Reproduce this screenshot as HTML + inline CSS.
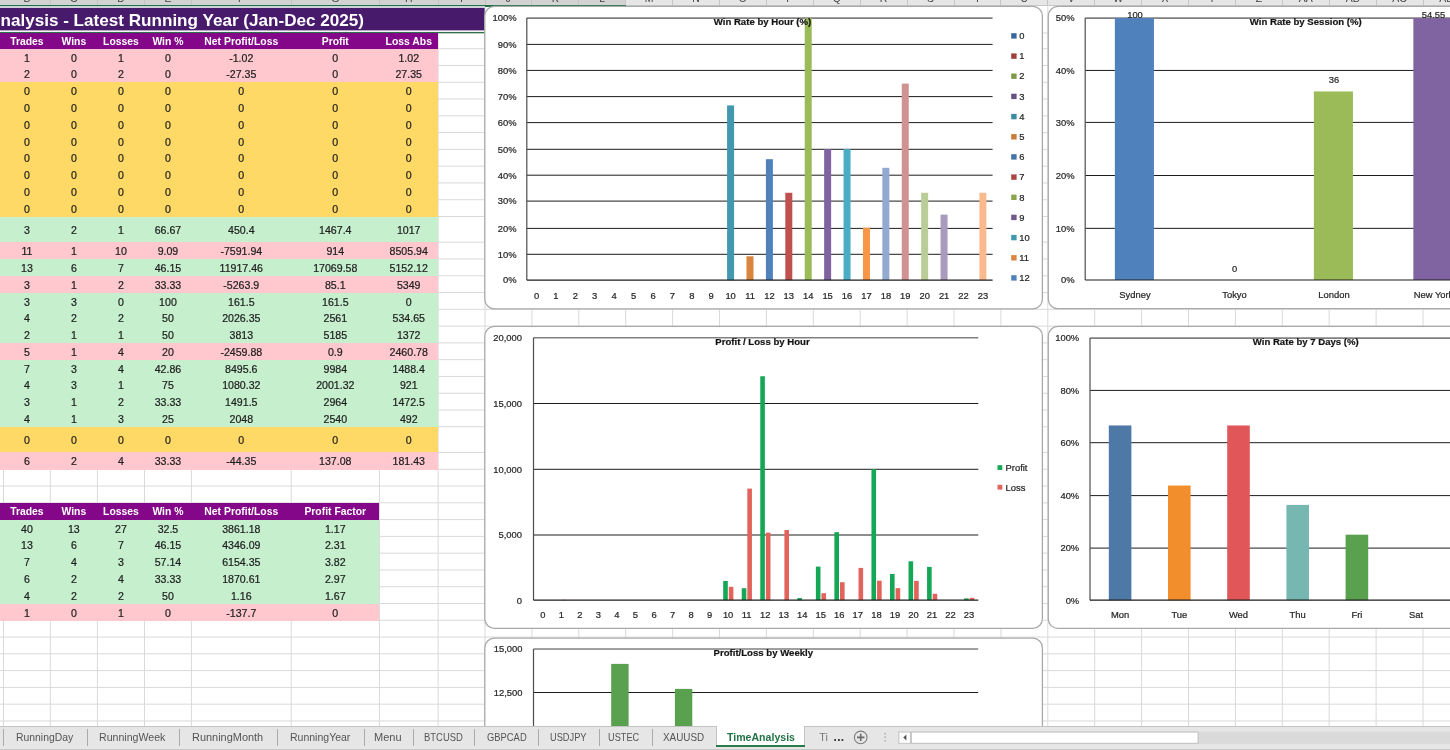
<!DOCTYPE html><html><head><meta charset="utf-8"><title>TimeAnalysis</title><style>
html,body{margin:0;padding:0;background:#fff;}
body{width:1450px;height:750px;overflow:hidden;position:relative;font-family:"Liberation Sans",sans-serif;}
#sheet{will-change:transform;position:absolute;left:0;top:0;width:1450px;height:750px;overflow:hidden;}
.c{position:absolute;text-align:center;white-space:nowrap;font-size:10.6px;color:#1e1e1e;overflow:visible;-webkit-text-stroke:0.22px #1e1e1e;}
.h{position:absolute;text-align:center;white-space:nowrap;font-size:10.4px;font-weight:bold;color:#fff;}
.bg{position:absolute;}
svg{position:absolute;left:0;top:0;}
svg text{font-family:"Liberation Sans",sans-serif;stroke:#262626;stroke-width:0.22px;}
.tab{position:absolute;top:730.4px;height:14px;line-height:14px;font-size:10.8px;color:#555;white-space:nowrap;}
.sep{position:absolute;top:729px;width:1px;height:17px;background:#ababab;}

</style></head><body><div id="sheet">
<svg width="1450" height="750" viewBox="0 0 1450 750">
<g stroke="#d9d9d9" stroke-width="1" shape-rendering="auto">
<line x1="3.5" y1="6" x2="3.5" y2="726"/>
<line x1="50.3" y1="6" x2="50.3" y2="726"/>
<line x1="97.4" y1="6" x2="97.4" y2="726"/>
<line x1="144.5" y1="6" x2="144.5" y2="726"/>
<line x1="191.4" y1="6" x2="191.4" y2="726"/>
<line x1="291.2" y1="6" x2="291.2" y2="726"/>
<line x1="379.4" y1="6" x2="379.4" y2="726"/>
<line x1="438.1" y1="6" x2="438.1" y2="726"/>
<line x1="485.0" y1="6" x2="485.0" y2="726"/>
<line x1="531.9" y1="6" x2="531.9" y2="726"/>
<line x1="578.8" y1="6" x2="578.8" y2="726"/>
<line x1="625.7" y1="6" x2="625.7" y2="726"/>
<line x1="672.6" y1="6" x2="672.6" y2="726"/>
<line x1="719.5" y1="6" x2="719.5" y2="726"/>
<line x1="766.4" y1="6" x2="766.4" y2="726"/>
<line x1="813.3" y1="6" x2="813.3" y2="726"/>
<line x1="860.2" y1="6" x2="860.2" y2="726"/>
<line x1="907.1" y1="6" x2="907.1" y2="726"/>
<line x1="954.0" y1="6" x2="954.0" y2="726"/>
<line x1="1000.9" y1="6" x2="1000.9" y2="726"/>
<line x1="1047.8" y1="6" x2="1047.8" y2="726"/>
<line x1="1094.7" y1="6" x2="1094.7" y2="726"/>
<line x1="1141.6" y1="6" x2="1141.6" y2="726"/>
<line x1="1188.5" y1="6" x2="1188.5" y2="726"/>
<line x1="1235.4" y1="6" x2="1235.4" y2="726"/>
<line x1="1282.3" y1="6" x2="1282.3" y2="726"/>
<line x1="1329.2" y1="6" x2="1329.2" y2="726"/>
<line x1="1376.1" y1="6" x2="1376.1" y2="726"/>
<line x1="1423.0" y1="6" x2="1423.0" y2="726"/>
<line x1="0" y1="33.00" x2="1450" y2="33.00"/>
<line x1="0" y1="48.70" x2="1450" y2="48.70"/>
<line x1="0" y1="65.48" x2="1450" y2="65.48"/>
<line x1="0" y1="82.26" x2="1450" y2="82.26"/>
<line x1="0" y1="99.04" x2="1450" y2="99.04"/>
<line x1="0" y1="115.82" x2="1450" y2="115.82"/>
<line x1="0" y1="132.60" x2="1450" y2="132.60"/>
<line x1="0" y1="149.38" x2="1450" y2="149.38"/>
<line x1="0" y1="166.16" x2="1450" y2="166.16"/>
<line x1="0" y1="182.94" x2="1450" y2="182.94"/>
<line x1="0" y1="199.72" x2="1450" y2="199.72"/>
<line x1="0" y1="216.50" x2="1450" y2="216.50"/>
<line x1="0" y1="242.20" x2="1450" y2="242.20"/>
<line x1="0" y1="258.98" x2="1450" y2="258.98"/>
<line x1="0" y1="275.76" x2="1450" y2="275.76"/>
<line x1="0" y1="292.54" x2="1450" y2="292.54"/>
<line x1="0" y1="309.32" x2="1450" y2="309.32"/>
<line x1="0" y1="326.10" x2="1450" y2="326.10"/>
<line x1="0" y1="342.88" x2="1450" y2="342.88"/>
<line x1="0" y1="359.66" x2="1450" y2="359.66"/>
<line x1="0" y1="376.44" x2="1450" y2="376.44"/>
<line x1="0" y1="393.22" x2="1450" y2="393.22"/>
<line x1="0" y1="410.00" x2="1450" y2="410.00"/>
<line x1="0" y1="426.78" x2="1450" y2="426.78"/>
<line x1="0" y1="452.48" x2="1450" y2="452.48"/>
<line x1="0" y1="469.26" x2="1450" y2="469.26"/>
<line x1="0" y1="486.04" x2="1450" y2="486.04"/>
<line x1="0" y1="502.82" x2="1450" y2="502.82"/>
<line x1="0" y1="519.60" x2="1450" y2="519.60"/>
<line x1="0" y1="536.38" x2="1450" y2="536.38"/>
<line x1="0" y1="553.16" x2="1450" y2="553.16"/>
<line x1="0" y1="569.94" x2="1450" y2="569.94"/>
<line x1="0" y1="586.72" x2="1450" y2="586.72"/>
<line x1="0" y1="603.50" x2="1450" y2="603.50"/>
<line x1="0" y1="620.28" x2="1450" y2="620.28"/>
<line x1="0" y1="637.06" x2="1450" y2="637.06"/>
<line x1="0" y1="653.84" x2="1450" y2="653.84"/>
<line x1="0" y1="670.62" x2="1450" y2="670.62"/>
<line x1="0" y1="687.40" x2="1450" y2="687.40"/>
<line x1="0" y1="704.18" x2="1450" y2="704.18"/>
<line x1="0" y1="720.96" x2="1450" y2="720.96"/>
</g></svg>
<div class="bg" style="left:0;top:0;width:1450px;height:6.4px;background:#e6e6e6;border-bottom:1px solid #c8c8c8;box-sizing:border-box"></div>
<div class="bg" style="left:0;top:0;width:626px;height:5px;background:#d3d3d3"></div>
<div class="bg" style="left:0;top:4.9px;width:626px;height:1.7px;background:#1f7145"></div>
<div style="position:absolute;left:0;top:0;width:1450px;height:5px;overflow:hidden">
<div style="position:absolute;left:3.5px;width:46.8px;top:-8.5px;text-align:center;font-size:10.5px;color:#444;line-height:12px">B</div>
<div style="position:absolute;left:49.8px;top:0;width:1px;height:5px;background:#c4c4c4"></div>
<div style="position:absolute;left:50.3px;width:47.1px;top:-8.5px;text-align:center;font-size:10.5px;color:#444;line-height:12px">C</div>
<div style="position:absolute;left:96.9px;top:0;width:1px;height:5px;background:#c4c4c4"></div>
<div style="position:absolute;left:97.4px;width:47.1px;top:-8.5px;text-align:center;font-size:10.5px;color:#444;line-height:12px">D</div>
<div style="position:absolute;left:144.0px;top:0;width:1px;height:5px;background:#c4c4c4"></div>
<div style="position:absolute;left:144.5px;width:46.9px;top:-8.5px;text-align:center;font-size:10.5px;color:#444;line-height:12px">E</div>
<div style="position:absolute;left:190.9px;top:0;width:1px;height:5px;background:#c4c4c4"></div>
<div style="position:absolute;left:191.4px;width:99.8px;top:-8.5px;text-align:center;font-size:10.5px;color:#444;line-height:12px">F</div>
<div style="position:absolute;left:290.7px;top:0;width:1px;height:5px;background:#c4c4c4"></div>
<div style="position:absolute;left:291.2px;width:88.2px;top:-8.5px;text-align:center;font-size:10.5px;color:#444;line-height:12px">G</div>
<div style="position:absolute;left:378.9px;top:0;width:1px;height:5px;background:#c4c4c4"></div>
<div style="position:absolute;left:379.4px;width:58.7px;top:-8.5px;text-align:center;font-size:10.5px;color:#444;line-height:12px">H</div>
<div style="position:absolute;left:437.6px;top:0;width:1px;height:5px;background:#c4c4c4"></div>
<div style="position:absolute;left:438.1px;width:46.9px;top:-8.5px;text-align:center;font-size:10.5px;color:#444;line-height:12px">I</div>
<div style="position:absolute;left:484.5px;top:0;width:1px;height:5px;background:#c4c4c4"></div>
<div style="position:absolute;left:485.0px;width:46.9px;top:-8.5px;text-align:center;font-size:10.5px;color:#444;line-height:12px">J</div>
<div style="position:absolute;left:531.4px;top:0;width:1px;height:5px;background:#c4c4c4"></div>
<div style="position:absolute;left:531.9px;width:46.9px;top:-8.5px;text-align:center;font-size:10.5px;color:#444;line-height:12px">K</div>
<div style="position:absolute;left:578.3px;top:0;width:1px;height:5px;background:#c4c4c4"></div>
<div style="position:absolute;left:578.8px;width:46.9px;top:-8.5px;text-align:center;font-size:10.5px;color:#444;line-height:12px">L</div>
<div style="position:absolute;left:625.2px;top:0;width:1px;height:5px;background:#c4c4c4"></div>
<div style="position:absolute;left:625.7px;width:46.9px;top:-8.5px;text-align:center;font-size:10.5px;color:#444;line-height:12px">M</div>
<div style="position:absolute;left:672.1px;top:0;width:1px;height:5px;background:#c4c4c4"></div>
<div style="position:absolute;left:672.6px;width:46.9px;top:-8.5px;text-align:center;font-size:10.5px;color:#444;line-height:12px">N</div>
<div style="position:absolute;left:719.0px;top:0;width:1px;height:5px;background:#c4c4c4"></div>
<div style="position:absolute;left:719.5px;width:46.9px;top:-8.5px;text-align:center;font-size:10.5px;color:#444;line-height:12px">O</div>
<div style="position:absolute;left:765.9px;top:0;width:1px;height:5px;background:#c4c4c4"></div>
<div style="position:absolute;left:766.4px;width:46.9px;top:-8.5px;text-align:center;font-size:10.5px;color:#444;line-height:12px">P</div>
<div style="position:absolute;left:812.8px;top:0;width:1px;height:5px;background:#c4c4c4"></div>
<div style="position:absolute;left:813.3px;width:46.9px;top:-8.5px;text-align:center;font-size:10.5px;color:#444;line-height:12px">Q</div>
<div style="position:absolute;left:859.7px;top:0;width:1px;height:5px;background:#c4c4c4"></div>
<div style="position:absolute;left:860.2px;width:46.9px;top:-8.5px;text-align:center;font-size:10.5px;color:#444;line-height:12px">R</div>
<div style="position:absolute;left:906.6px;top:0;width:1px;height:5px;background:#c4c4c4"></div>
<div style="position:absolute;left:907.1px;width:46.9px;top:-8.5px;text-align:center;font-size:10.5px;color:#444;line-height:12px">S</div>
<div style="position:absolute;left:953.5px;top:0;width:1px;height:5px;background:#c4c4c4"></div>
<div style="position:absolute;left:954.0px;width:46.9px;top:-8.5px;text-align:center;font-size:10.5px;color:#444;line-height:12px">T</div>
<div style="position:absolute;left:1000.4px;top:0;width:1px;height:5px;background:#c4c4c4"></div>
<div style="position:absolute;left:1000.9px;width:46.9px;top:-8.5px;text-align:center;font-size:10.5px;color:#444;line-height:12px">U</div>
<div style="position:absolute;left:1047.3px;top:0;width:1px;height:5px;background:#c4c4c4"></div>
<div style="position:absolute;left:1047.8px;width:46.9px;top:-8.5px;text-align:center;font-size:10.5px;color:#444;line-height:12px">V</div>
<div style="position:absolute;left:1094.2px;top:0;width:1px;height:5px;background:#c4c4c4"></div>
<div style="position:absolute;left:1094.7px;width:46.9px;top:-8.5px;text-align:center;font-size:10.5px;color:#444;line-height:12px">W</div>
<div style="position:absolute;left:1141.1px;top:0;width:1px;height:5px;background:#c4c4c4"></div>
<div style="position:absolute;left:1141.6px;width:46.9px;top:-8.5px;text-align:center;font-size:10.5px;color:#444;line-height:12px">X</div>
<div style="position:absolute;left:1188.0px;top:0;width:1px;height:5px;background:#c4c4c4"></div>
<div style="position:absolute;left:1188.5px;width:46.9px;top:-8.5px;text-align:center;font-size:10.5px;color:#444;line-height:12px">Y</div>
<div style="position:absolute;left:1234.9px;top:0;width:1px;height:5px;background:#c4c4c4"></div>
<div style="position:absolute;left:1235.4px;width:46.9px;top:-8.5px;text-align:center;font-size:10.5px;color:#444;line-height:12px">Z</div>
<div style="position:absolute;left:1281.8px;top:0;width:1px;height:5px;background:#c4c4c4"></div>
<div style="position:absolute;left:1282.3px;width:46.9px;top:-8.5px;text-align:center;font-size:10.5px;color:#444;line-height:12px">AA</div>
<div style="position:absolute;left:1328.7px;top:0;width:1px;height:5px;background:#c4c4c4"></div>
<div style="position:absolute;left:1329.2px;width:46.9px;top:-8.5px;text-align:center;font-size:10.5px;color:#444;line-height:12px">AB</div>
<div style="position:absolute;left:1375.6px;top:0;width:1px;height:5px;background:#c4c4c4"></div>
<div style="position:absolute;left:1376.1px;width:46.9px;top:-8.5px;text-align:center;font-size:10.5px;color:#444;line-height:12px">AC</div>
<div style="position:absolute;left:1422.5px;top:0;width:1px;height:5px;background:#c4c4c4"></div>
<div style="position:absolute;left:1423.0px;width:46.9px;top:-8.5px;text-align:center;font-size:10.5px;color:#444;line-height:12px">AD</div>
<div style="position:absolute;left:1469.4px;top:0;width:1px;height:5px;background:#c4c4c4"></div>
</div>
<div class="bg" style="left:0;top:6.4px;width:485px;height:1.8px;background:#d0d0d8"></div>
<svg width="1450" height="40" viewBox="0 0 1450 40"><rect x="0" y="8" width="484.6" height="22.6" fill="#481a6b"/><rect x="0" y="30.6" width="484.6" height="1.4" fill="#f4f4f4"/><rect x="0" y="32" width="484.6" height="1.25" fill="#2f6f4c"/></svg>
<div style="position:absolute;left:-200px;width:564px;top:9px;height:23px;line-height:23px;text-align:right;white-space:nowrap;font-weight:bold;font-size:17.1px;color:#fff">Time Analysis - Latest Running Year (Jan-Dec 2025)</div>
<div class="bg" style="left:0;top:33px;width:438.1px;height:16px;background:#84078a"></div>
<div class="h" style="left:3.5px;width:46.8px;top:33px;height:16px;line-height:17px">Trades</div>
<div class="h" style="left:50.3px;width:47.1px;top:33px;height:16px;line-height:17px">Wins</div>
<div class="h" style="left:97.4px;width:47.1px;top:33px;height:16px;line-height:17px">Losses</div>
<div class="h" style="left:144.5px;width:46.9px;top:33px;height:16px;line-height:17px">Win %</div>
<div class="h" style="left:191.4px;width:99.8px;top:33px;height:16px;line-height:17px">Net Profit/Loss</div>
<div class="h" style="left:291.2px;width:88.2px;top:33px;height:16px;line-height:17px">Profit</div>
<div class="h" style="left:379.4px;width:58.7px;top:33px;height:16px;line-height:17px">Loss Abs</div>
<div class="bg" style="left:0;top:48.70px;width:438.1px;height:17.18px;background:#ffc7ce"></div>
<div class="c" style="left:3.5px;width:46.8px;top:48.70px;height:16.78px;line-height:18.18px">1</div>
<div class="c" style="left:50.3px;width:47.1px;top:48.70px;height:16.78px;line-height:18.18px">0</div>
<div class="c" style="left:97.4px;width:47.1px;top:48.70px;height:16.78px;line-height:18.18px">1</div>
<div class="c" style="left:144.5px;width:46.9px;top:48.70px;height:16.78px;line-height:18.18px">0</div>
<div class="c" style="left:191.4px;width:99.8px;top:48.70px;height:16.78px;line-height:18.18px">-1.02</div>
<div class="c" style="left:291.2px;width:88.2px;top:48.70px;height:16.78px;line-height:18.18px">0</div>
<div class="c" style="left:379.4px;width:58.7px;top:48.70px;height:16.78px;line-height:18.18px">1.02</div>
<div class="bg" style="left:0;top:65.48px;width:438.1px;height:17.18px;background:#ffc7ce"></div>
<div class="c" style="left:3.5px;width:46.8px;top:65.48px;height:16.78px;line-height:18.18px">2</div>
<div class="c" style="left:50.3px;width:47.1px;top:65.48px;height:16.78px;line-height:18.18px">0</div>
<div class="c" style="left:97.4px;width:47.1px;top:65.48px;height:16.78px;line-height:18.18px">2</div>
<div class="c" style="left:144.5px;width:46.9px;top:65.48px;height:16.78px;line-height:18.18px">0</div>
<div class="c" style="left:191.4px;width:99.8px;top:65.48px;height:16.78px;line-height:18.18px">-27.35</div>
<div class="c" style="left:291.2px;width:88.2px;top:65.48px;height:16.78px;line-height:18.18px">0</div>
<div class="c" style="left:379.4px;width:58.7px;top:65.48px;height:16.78px;line-height:18.18px">27.35</div>
<div class="bg" style="left:0;top:82.26px;width:438.1px;height:17.18px;background:#ffd966"></div>
<div class="c" style="left:3.5px;width:46.8px;top:82.26px;height:16.78px;line-height:18.18px">0</div>
<div class="c" style="left:50.3px;width:47.1px;top:82.26px;height:16.78px;line-height:18.18px">0</div>
<div class="c" style="left:97.4px;width:47.1px;top:82.26px;height:16.78px;line-height:18.18px">0</div>
<div class="c" style="left:144.5px;width:46.9px;top:82.26px;height:16.78px;line-height:18.18px">0</div>
<div class="c" style="left:191.4px;width:99.8px;top:82.26px;height:16.78px;line-height:18.18px">0</div>
<div class="c" style="left:291.2px;width:88.2px;top:82.26px;height:16.78px;line-height:18.18px">0</div>
<div class="c" style="left:379.4px;width:58.7px;top:82.26px;height:16.78px;line-height:18.18px">0</div>
<div class="bg" style="left:0;top:99.04px;width:438.1px;height:17.18px;background:#ffd966"></div>
<div class="c" style="left:3.5px;width:46.8px;top:99.04px;height:16.78px;line-height:18.18px">0</div>
<div class="c" style="left:50.3px;width:47.1px;top:99.04px;height:16.78px;line-height:18.18px">0</div>
<div class="c" style="left:97.4px;width:47.1px;top:99.04px;height:16.78px;line-height:18.18px">0</div>
<div class="c" style="left:144.5px;width:46.9px;top:99.04px;height:16.78px;line-height:18.18px">0</div>
<div class="c" style="left:191.4px;width:99.8px;top:99.04px;height:16.78px;line-height:18.18px">0</div>
<div class="c" style="left:291.2px;width:88.2px;top:99.04px;height:16.78px;line-height:18.18px">0</div>
<div class="c" style="left:379.4px;width:58.7px;top:99.04px;height:16.78px;line-height:18.18px">0</div>
<div class="bg" style="left:0;top:115.82px;width:438.1px;height:17.18px;background:#ffd966"></div>
<div class="c" style="left:3.5px;width:46.8px;top:115.82px;height:16.78px;line-height:18.18px">0</div>
<div class="c" style="left:50.3px;width:47.1px;top:115.82px;height:16.78px;line-height:18.18px">0</div>
<div class="c" style="left:97.4px;width:47.1px;top:115.82px;height:16.78px;line-height:18.18px">0</div>
<div class="c" style="left:144.5px;width:46.9px;top:115.82px;height:16.78px;line-height:18.18px">0</div>
<div class="c" style="left:191.4px;width:99.8px;top:115.82px;height:16.78px;line-height:18.18px">0</div>
<div class="c" style="left:291.2px;width:88.2px;top:115.82px;height:16.78px;line-height:18.18px">0</div>
<div class="c" style="left:379.4px;width:58.7px;top:115.82px;height:16.78px;line-height:18.18px">0</div>
<div class="bg" style="left:0;top:132.60px;width:438.1px;height:17.18px;background:#ffd966"></div>
<div class="c" style="left:3.5px;width:46.8px;top:132.60px;height:16.78px;line-height:18.18px">0</div>
<div class="c" style="left:50.3px;width:47.1px;top:132.60px;height:16.78px;line-height:18.18px">0</div>
<div class="c" style="left:97.4px;width:47.1px;top:132.60px;height:16.78px;line-height:18.18px">0</div>
<div class="c" style="left:144.5px;width:46.9px;top:132.60px;height:16.78px;line-height:18.18px">0</div>
<div class="c" style="left:191.4px;width:99.8px;top:132.60px;height:16.78px;line-height:18.18px">0</div>
<div class="c" style="left:291.2px;width:88.2px;top:132.60px;height:16.78px;line-height:18.18px">0</div>
<div class="c" style="left:379.4px;width:58.7px;top:132.60px;height:16.78px;line-height:18.18px">0</div>
<div class="bg" style="left:0;top:149.38px;width:438.1px;height:17.18px;background:#ffd966"></div>
<div class="c" style="left:3.5px;width:46.8px;top:149.38px;height:16.78px;line-height:18.18px">0</div>
<div class="c" style="left:50.3px;width:47.1px;top:149.38px;height:16.78px;line-height:18.18px">0</div>
<div class="c" style="left:97.4px;width:47.1px;top:149.38px;height:16.78px;line-height:18.18px">0</div>
<div class="c" style="left:144.5px;width:46.9px;top:149.38px;height:16.78px;line-height:18.18px">0</div>
<div class="c" style="left:191.4px;width:99.8px;top:149.38px;height:16.78px;line-height:18.18px">0</div>
<div class="c" style="left:291.2px;width:88.2px;top:149.38px;height:16.78px;line-height:18.18px">0</div>
<div class="c" style="left:379.4px;width:58.7px;top:149.38px;height:16.78px;line-height:18.18px">0</div>
<div class="bg" style="left:0;top:166.16px;width:438.1px;height:17.18px;background:#ffd966"></div>
<div class="c" style="left:3.5px;width:46.8px;top:166.16px;height:16.78px;line-height:18.18px">0</div>
<div class="c" style="left:50.3px;width:47.1px;top:166.16px;height:16.78px;line-height:18.18px">0</div>
<div class="c" style="left:97.4px;width:47.1px;top:166.16px;height:16.78px;line-height:18.18px">0</div>
<div class="c" style="left:144.5px;width:46.9px;top:166.16px;height:16.78px;line-height:18.18px">0</div>
<div class="c" style="left:191.4px;width:99.8px;top:166.16px;height:16.78px;line-height:18.18px">0</div>
<div class="c" style="left:291.2px;width:88.2px;top:166.16px;height:16.78px;line-height:18.18px">0</div>
<div class="c" style="left:379.4px;width:58.7px;top:166.16px;height:16.78px;line-height:18.18px">0</div>
<div class="bg" style="left:0;top:182.94px;width:438.1px;height:17.18px;background:#ffd966"></div>
<div class="c" style="left:3.5px;width:46.8px;top:182.94px;height:16.78px;line-height:18.18px">0</div>
<div class="c" style="left:50.3px;width:47.1px;top:182.94px;height:16.78px;line-height:18.18px">0</div>
<div class="c" style="left:97.4px;width:47.1px;top:182.94px;height:16.78px;line-height:18.18px">0</div>
<div class="c" style="left:144.5px;width:46.9px;top:182.94px;height:16.78px;line-height:18.18px">0</div>
<div class="c" style="left:191.4px;width:99.8px;top:182.94px;height:16.78px;line-height:18.18px">0</div>
<div class="c" style="left:291.2px;width:88.2px;top:182.94px;height:16.78px;line-height:18.18px">0</div>
<div class="c" style="left:379.4px;width:58.7px;top:182.94px;height:16.78px;line-height:18.18px">0</div>
<div class="bg" style="left:0;top:199.72px;width:438.1px;height:17.18px;background:#ffd966"></div>
<div class="c" style="left:3.5px;width:46.8px;top:199.72px;height:16.78px;line-height:18.18px">0</div>
<div class="c" style="left:50.3px;width:47.1px;top:199.72px;height:16.78px;line-height:18.18px">0</div>
<div class="c" style="left:97.4px;width:47.1px;top:199.72px;height:16.78px;line-height:18.18px">0</div>
<div class="c" style="left:144.5px;width:46.9px;top:199.72px;height:16.78px;line-height:18.18px">0</div>
<div class="c" style="left:191.4px;width:99.8px;top:199.72px;height:16.78px;line-height:18.18px">0</div>
<div class="c" style="left:291.2px;width:88.2px;top:199.72px;height:16.78px;line-height:18.18px">0</div>
<div class="c" style="left:379.4px;width:58.7px;top:199.72px;height:16.78px;line-height:18.18px">0</div>
<div class="bg" style="left:0;top:216.50px;width:438.1px;height:26.10px;background:#c6efce"></div>
<div class="c" style="left:3.5px;width:46.8px;top:216.50px;height:25.70px;line-height:27.10px">3</div>
<div class="c" style="left:50.3px;width:47.1px;top:216.50px;height:25.70px;line-height:27.10px">2</div>
<div class="c" style="left:97.4px;width:47.1px;top:216.50px;height:25.70px;line-height:27.10px">1</div>
<div class="c" style="left:144.5px;width:46.9px;top:216.50px;height:25.70px;line-height:27.10px">66.67</div>
<div class="c" style="left:191.4px;width:99.8px;top:216.50px;height:25.70px;line-height:27.10px">450.4</div>
<div class="c" style="left:291.2px;width:88.2px;top:216.50px;height:25.70px;line-height:27.10px">1467.4</div>
<div class="c" style="left:379.4px;width:58.7px;top:216.50px;height:25.70px;line-height:27.10px">1017</div>
<div class="bg" style="left:0;top:242.20px;width:438.1px;height:17.18px;background:#ffc7ce"></div>
<div class="c" style="left:3.5px;width:46.8px;top:242.20px;height:16.78px;line-height:18.18px">11</div>
<div class="c" style="left:50.3px;width:47.1px;top:242.20px;height:16.78px;line-height:18.18px">1</div>
<div class="c" style="left:97.4px;width:47.1px;top:242.20px;height:16.78px;line-height:18.18px">10</div>
<div class="c" style="left:144.5px;width:46.9px;top:242.20px;height:16.78px;line-height:18.18px">9.09</div>
<div class="c" style="left:191.4px;width:99.8px;top:242.20px;height:16.78px;line-height:18.18px">-7591.94</div>
<div class="c" style="left:291.2px;width:88.2px;top:242.20px;height:16.78px;line-height:18.18px">914</div>
<div class="c" style="left:379.4px;width:58.7px;top:242.20px;height:16.78px;line-height:18.18px">8505.94</div>
<div class="bg" style="left:0;top:258.98px;width:438.1px;height:17.18px;background:#c6efce"></div>
<div class="c" style="left:3.5px;width:46.8px;top:258.98px;height:16.78px;line-height:18.18px">13</div>
<div class="c" style="left:50.3px;width:47.1px;top:258.98px;height:16.78px;line-height:18.18px">6</div>
<div class="c" style="left:97.4px;width:47.1px;top:258.98px;height:16.78px;line-height:18.18px">7</div>
<div class="c" style="left:144.5px;width:46.9px;top:258.98px;height:16.78px;line-height:18.18px">46.15</div>
<div class="c" style="left:191.4px;width:99.8px;top:258.98px;height:16.78px;line-height:18.18px">11917.46</div>
<div class="c" style="left:291.2px;width:88.2px;top:258.98px;height:16.78px;line-height:18.18px">17069.58</div>
<div class="c" style="left:379.4px;width:58.7px;top:258.98px;height:16.78px;line-height:18.18px">5152.12</div>
<div class="bg" style="left:0;top:275.76px;width:438.1px;height:17.18px;background:#ffc7ce"></div>
<div class="c" style="left:3.5px;width:46.8px;top:275.76px;height:16.78px;line-height:18.18px">3</div>
<div class="c" style="left:50.3px;width:47.1px;top:275.76px;height:16.78px;line-height:18.18px">1</div>
<div class="c" style="left:97.4px;width:47.1px;top:275.76px;height:16.78px;line-height:18.18px">2</div>
<div class="c" style="left:144.5px;width:46.9px;top:275.76px;height:16.78px;line-height:18.18px">33.33</div>
<div class="c" style="left:191.4px;width:99.8px;top:275.76px;height:16.78px;line-height:18.18px">-5263.9</div>
<div class="c" style="left:291.2px;width:88.2px;top:275.76px;height:16.78px;line-height:18.18px">85.1</div>
<div class="c" style="left:379.4px;width:58.7px;top:275.76px;height:16.78px;line-height:18.18px">5349</div>
<div class="bg" style="left:0;top:292.54px;width:438.1px;height:17.18px;background:#c6efce"></div>
<div class="c" style="left:3.5px;width:46.8px;top:292.54px;height:16.78px;line-height:18.18px">3</div>
<div class="c" style="left:50.3px;width:47.1px;top:292.54px;height:16.78px;line-height:18.18px">3</div>
<div class="c" style="left:97.4px;width:47.1px;top:292.54px;height:16.78px;line-height:18.18px">0</div>
<div class="c" style="left:144.5px;width:46.9px;top:292.54px;height:16.78px;line-height:18.18px">100</div>
<div class="c" style="left:191.4px;width:99.8px;top:292.54px;height:16.78px;line-height:18.18px">161.5</div>
<div class="c" style="left:291.2px;width:88.2px;top:292.54px;height:16.78px;line-height:18.18px">161.5</div>
<div class="c" style="left:379.4px;width:58.7px;top:292.54px;height:16.78px;line-height:18.18px">0</div>
<div class="bg" style="left:0;top:309.32px;width:438.1px;height:17.18px;background:#c6efce"></div>
<div class="c" style="left:3.5px;width:46.8px;top:309.32px;height:16.78px;line-height:18.18px">4</div>
<div class="c" style="left:50.3px;width:47.1px;top:309.32px;height:16.78px;line-height:18.18px">2</div>
<div class="c" style="left:97.4px;width:47.1px;top:309.32px;height:16.78px;line-height:18.18px">2</div>
<div class="c" style="left:144.5px;width:46.9px;top:309.32px;height:16.78px;line-height:18.18px">50</div>
<div class="c" style="left:191.4px;width:99.8px;top:309.32px;height:16.78px;line-height:18.18px">2026.35</div>
<div class="c" style="left:291.2px;width:88.2px;top:309.32px;height:16.78px;line-height:18.18px">2561</div>
<div class="c" style="left:379.4px;width:58.7px;top:309.32px;height:16.78px;line-height:18.18px">534.65</div>
<div class="bg" style="left:0;top:326.10px;width:438.1px;height:17.18px;background:#c6efce"></div>
<div class="c" style="left:3.5px;width:46.8px;top:326.10px;height:16.78px;line-height:18.18px">2</div>
<div class="c" style="left:50.3px;width:47.1px;top:326.10px;height:16.78px;line-height:18.18px">1</div>
<div class="c" style="left:97.4px;width:47.1px;top:326.10px;height:16.78px;line-height:18.18px">1</div>
<div class="c" style="left:144.5px;width:46.9px;top:326.10px;height:16.78px;line-height:18.18px">50</div>
<div class="c" style="left:191.4px;width:99.8px;top:326.10px;height:16.78px;line-height:18.18px">3813</div>
<div class="c" style="left:291.2px;width:88.2px;top:326.10px;height:16.78px;line-height:18.18px">5185</div>
<div class="c" style="left:379.4px;width:58.7px;top:326.10px;height:16.78px;line-height:18.18px">1372</div>
<div class="bg" style="left:0;top:342.88px;width:438.1px;height:17.18px;background:#ffc7ce"></div>
<div class="c" style="left:3.5px;width:46.8px;top:342.88px;height:16.78px;line-height:18.18px">5</div>
<div class="c" style="left:50.3px;width:47.1px;top:342.88px;height:16.78px;line-height:18.18px">1</div>
<div class="c" style="left:97.4px;width:47.1px;top:342.88px;height:16.78px;line-height:18.18px">4</div>
<div class="c" style="left:144.5px;width:46.9px;top:342.88px;height:16.78px;line-height:18.18px">20</div>
<div class="c" style="left:191.4px;width:99.8px;top:342.88px;height:16.78px;line-height:18.18px">-2459.88</div>
<div class="c" style="left:291.2px;width:88.2px;top:342.88px;height:16.78px;line-height:18.18px">0.9</div>
<div class="c" style="left:379.4px;width:58.7px;top:342.88px;height:16.78px;line-height:18.18px">2460.78</div>
<div class="bg" style="left:0;top:359.66px;width:438.1px;height:17.18px;background:#c6efce"></div>
<div class="c" style="left:3.5px;width:46.8px;top:359.66px;height:16.78px;line-height:18.18px">7</div>
<div class="c" style="left:50.3px;width:47.1px;top:359.66px;height:16.78px;line-height:18.18px">3</div>
<div class="c" style="left:97.4px;width:47.1px;top:359.66px;height:16.78px;line-height:18.18px">4</div>
<div class="c" style="left:144.5px;width:46.9px;top:359.66px;height:16.78px;line-height:18.18px">42.86</div>
<div class="c" style="left:191.4px;width:99.8px;top:359.66px;height:16.78px;line-height:18.18px">8495.6</div>
<div class="c" style="left:291.2px;width:88.2px;top:359.66px;height:16.78px;line-height:18.18px">9984</div>
<div class="c" style="left:379.4px;width:58.7px;top:359.66px;height:16.78px;line-height:18.18px">1488.4</div>
<div class="bg" style="left:0;top:376.44px;width:438.1px;height:17.18px;background:#c6efce"></div>
<div class="c" style="left:3.5px;width:46.8px;top:376.44px;height:16.78px;line-height:18.18px">4</div>
<div class="c" style="left:50.3px;width:47.1px;top:376.44px;height:16.78px;line-height:18.18px">3</div>
<div class="c" style="left:97.4px;width:47.1px;top:376.44px;height:16.78px;line-height:18.18px">1</div>
<div class="c" style="left:144.5px;width:46.9px;top:376.44px;height:16.78px;line-height:18.18px">75</div>
<div class="c" style="left:191.4px;width:99.8px;top:376.44px;height:16.78px;line-height:18.18px">1080.32</div>
<div class="c" style="left:291.2px;width:88.2px;top:376.44px;height:16.78px;line-height:18.18px">2001.32</div>
<div class="c" style="left:379.4px;width:58.7px;top:376.44px;height:16.78px;line-height:18.18px">921</div>
<div class="bg" style="left:0;top:393.22px;width:438.1px;height:17.18px;background:#c6efce"></div>
<div class="c" style="left:3.5px;width:46.8px;top:393.22px;height:16.78px;line-height:18.18px">3</div>
<div class="c" style="left:50.3px;width:47.1px;top:393.22px;height:16.78px;line-height:18.18px">1</div>
<div class="c" style="left:97.4px;width:47.1px;top:393.22px;height:16.78px;line-height:18.18px">2</div>
<div class="c" style="left:144.5px;width:46.9px;top:393.22px;height:16.78px;line-height:18.18px">33.33</div>
<div class="c" style="left:191.4px;width:99.8px;top:393.22px;height:16.78px;line-height:18.18px">1491.5</div>
<div class="c" style="left:291.2px;width:88.2px;top:393.22px;height:16.78px;line-height:18.18px">2964</div>
<div class="c" style="left:379.4px;width:58.7px;top:393.22px;height:16.78px;line-height:18.18px">1472.5</div>
<div class="bg" style="left:0;top:410.00px;width:438.1px;height:17.18px;background:#c6efce"></div>
<div class="c" style="left:3.5px;width:46.8px;top:410.00px;height:16.78px;line-height:18.18px">4</div>
<div class="c" style="left:50.3px;width:47.1px;top:410.00px;height:16.78px;line-height:18.18px">1</div>
<div class="c" style="left:97.4px;width:47.1px;top:410.00px;height:16.78px;line-height:18.18px">3</div>
<div class="c" style="left:144.5px;width:46.9px;top:410.00px;height:16.78px;line-height:18.18px">25</div>
<div class="c" style="left:191.4px;width:99.8px;top:410.00px;height:16.78px;line-height:18.18px">2048</div>
<div class="c" style="left:291.2px;width:88.2px;top:410.00px;height:16.78px;line-height:18.18px">2540</div>
<div class="c" style="left:379.4px;width:58.7px;top:410.00px;height:16.78px;line-height:18.18px">492</div>
<div class="bg" style="left:0;top:426.78px;width:438.1px;height:26.10px;background:#ffd966"></div>
<div class="c" style="left:3.5px;width:46.8px;top:426.78px;height:25.70px;line-height:27.10px">0</div>
<div class="c" style="left:50.3px;width:47.1px;top:426.78px;height:25.70px;line-height:27.10px">0</div>
<div class="c" style="left:97.4px;width:47.1px;top:426.78px;height:25.70px;line-height:27.10px">0</div>
<div class="c" style="left:144.5px;width:46.9px;top:426.78px;height:25.70px;line-height:27.10px">0</div>
<div class="c" style="left:191.4px;width:99.8px;top:426.78px;height:25.70px;line-height:27.10px">0</div>
<div class="c" style="left:291.2px;width:88.2px;top:426.78px;height:25.70px;line-height:27.10px">0</div>
<div class="c" style="left:379.4px;width:58.7px;top:426.78px;height:25.70px;line-height:27.10px">0</div>
<div class="bg" style="left:0;top:452.48px;width:438.1px;height:17.18px;background:#ffc7ce"></div>
<div class="c" style="left:3.5px;width:46.8px;top:452.48px;height:16.78px;line-height:18.18px">6</div>
<div class="c" style="left:50.3px;width:47.1px;top:452.48px;height:16.78px;line-height:18.18px">2</div>
<div class="c" style="left:97.4px;width:47.1px;top:452.48px;height:16.78px;line-height:18.18px">4</div>
<div class="c" style="left:144.5px;width:46.9px;top:452.48px;height:16.78px;line-height:18.18px">33.33</div>
<div class="c" style="left:191.4px;width:99.8px;top:452.48px;height:16.78px;line-height:18.18px">-44.35</div>
<div class="c" style="left:291.2px;width:88.2px;top:452.48px;height:16.78px;line-height:18.18px">137.08</div>
<div class="c" style="left:379.4px;width:58.7px;top:452.48px;height:16.78px;line-height:18.18px">181.43</div>
<div class="bg" style="left:0;top:502.82px;width:379.4px;height:16.9px;background:#84078a"></div>
<div class="h" style="left:3.5px;width:46.8px;top:502.82px;height:16.7px;line-height:17.6px">Trades</div>
<div class="h" style="left:50.3px;width:47.1px;top:502.82px;height:16.7px;line-height:17.6px">Wins</div>
<div class="h" style="left:97.4px;width:47.1px;top:502.82px;height:16.7px;line-height:17.6px">Losses</div>
<div class="h" style="left:144.5px;width:46.9px;top:502.82px;height:16.7px;line-height:17.6px">Win %</div>
<div class="h" style="left:191.4px;width:99.8px;top:502.82px;height:16.7px;line-height:17.6px">Net Profit/Loss</div>
<div class="h" style="left:291.2px;width:88.2px;top:502.82px;height:16.7px;line-height:17.6px">Profit Factor</div>
<div class="bg" style="left:0;top:519.60px;width:379.4px;height:17.18px;background:#c6efce"></div>
<div class="c" style="left:3.5px;width:46.8px;top:519.60px;height:16.78px;line-height:18.18px">40</div>
<div class="c" style="left:50.3px;width:47.1px;top:519.60px;height:16.78px;line-height:18.18px">13</div>
<div class="c" style="left:97.4px;width:47.1px;top:519.60px;height:16.78px;line-height:18.18px">27</div>
<div class="c" style="left:144.5px;width:46.9px;top:519.60px;height:16.78px;line-height:18.18px">32.5</div>
<div class="c" style="left:191.4px;width:99.8px;top:519.60px;height:16.78px;line-height:18.18px">3861.18</div>
<div class="c" style="left:291.2px;width:88.2px;top:519.60px;height:16.78px;line-height:18.18px">1.17</div>
<div class="bg" style="left:0;top:536.38px;width:379.4px;height:17.18px;background:#c6efce"></div>
<div class="c" style="left:3.5px;width:46.8px;top:536.38px;height:16.78px;line-height:18.18px">13</div>
<div class="c" style="left:50.3px;width:47.1px;top:536.38px;height:16.78px;line-height:18.18px">6</div>
<div class="c" style="left:97.4px;width:47.1px;top:536.38px;height:16.78px;line-height:18.18px">7</div>
<div class="c" style="left:144.5px;width:46.9px;top:536.38px;height:16.78px;line-height:18.18px">46.15</div>
<div class="c" style="left:191.4px;width:99.8px;top:536.38px;height:16.78px;line-height:18.18px">4346.09</div>
<div class="c" style="left:291.2px;width:88.2px;top:536.38px;height:16.78px;line-height:18.18px">2.31</div>
<div class="bg" style="left:0;top:553.16px;width:379.4px;height:17.18px;background:#c6efce"></div>
<div class="c" style="left:3.5px;width:46.8px;top:553.16px;height:16.78px;line-height:18.18px">7</div>
<div class="c" style="left:50.3px;width:47.1px;top:553.16px;height:16.78px;line-height:18.18px">4</div>
<div class="c" style="left:97.4px;width:47.1px;top:553.16px;height:16.78px;line-height:18.18px">3</div>
<div class="c" style="left:144.5px;width:46.9px;top:553.16px;height:16.78px;line-height:18.18px">57.14</div>
<div class="c" style="left:191.4px;width:99.8px;top:553.16px;height:16.78px;line-height:18.18px">6154.35</div>
<div class="c" style="left:291.2px;width:88.2px;top:553.16px;height:16.78px;line-height:18.18px">3.82</div>
<div class="bg" style="left:0;top:569.94px;width:379.4px;height:17.18px;background:#c6efce"></div>
<div class="c" style="left:3.5px;width:46.8px;top:569.94px;height:16.78px;line-height:18.18px">6</div>
<div class="c" style="left:50.3px;width:47.1px;top:569.94px;height:16.78px;line-height:18.18px">2</div>
<div class="c" style="left:97.4px;width:47.1px;top:569.94px;height:16.78px;line-height:18.18px">4</div>
<div class="c" style="left:144.5px;width:46.9px;top:569.94px;height:16.78px;line-height:18.18px">33.33</div>
<div class="c" style="left:191.4px;width:99.8px;top:569.94px;height:16.78px;line-height:18.18px">1870.61</div>
<div class="c" style="left:291.2px;width:88.2px;top:569.94px;height:16.78px;line-height:18.18px">2.97</div>
<div class="bg" style="left:0;top:586.72px;width:379.4px;height:17.18px;background:#c6efce"></div>
<div class="c" style="left:3.5px;width:46.8px;top:586.72px;height:16.78px;line-height:18.18px">4</div>
<div class="c" style="left:50.3px;width:47.1px;top:586.72px;height:16.78px;line-height:18.18px">2</div>
<div class="c" style="left:97.4px;width:47.1px;top:586.72px;height:16.78px;line-height:18.18px">2</div>
<div class="c" style="left:144.5px;width:46.9px;top:586.72px;height:16.78px;line-height:18.18px">50</div>
<div class="c" style="left:191.4px;width:99.8px;top:586.72px;height:16.78px;line-height:18.18px">1.16</div>
<div class="c" style="left:291.2px;width:88.2px;top:586.72px;height:16.78px;line-height:18.18px">1.67</div>
<div class="bg" style="left:0;top:603.50px;width:379.4px;height:17.18px;background:#ffc7ce"></div>
<div class="c" style="left:3.5px;width:46.8px;top:603.50px;height:16.78px;line-height:18.18px">1</div>
<div class="c" style="left:50.3px;width:47.1px;top:603.50px;height:16.78px;line-height:18.18px">0</div>
<div class="c" style="left:97.4px;width:47.1px;top:603.50px;height:16.78px;line-height:18.18px">1</div>
<div class="c" style="left:144.5px;width:46.9px;top:603.50px;height:16.78px;line-height:18.18px">0</div>
<div class="c" style="left:191.4px;width:99.8px;top:603.50px;height:16.78px;line-height:18.18px">-137.7</div>
<div class="c" style="left:291.2px;width:88.2px;top:603.50px;height:16.78px;line-height:18.18px">0</div>
<svg width="1450" height="750" viewBox="0 0 1450 750">
<rect x="484.8" y="6.4" width="557.6" height="302.4" rx="9.5" ry="9.5" fill="#fff" stroke="#a9a9a9" stroke-width="1.3"/>
<line x1="526.8" y1="18.10" x2="992.6" y2="18.10" stroke="#808080" stroke-width="1.6"/>
<line x1="526.8" y1="44.40" x2="992.6" y2="44.40" stroke="#1c1c1c" stroke-width="1"/>
<line x1="526.8" y1="70.40" x2="992.6" y2="70.40" stroke="#1c1c1c" stroke-width="1"/>
<line x1="526.8" y1="96.60" x2="992.6" y2="96.60" stroke="#1c1c1c" stroke-width="1"/>
<line x1="526.8" y1="122.60" x2="992.6" y2="122.60" stroke="#1c1c1c" stroke-width="1"/>
<line x1="526.8" y1="149.30" x2="992.6" y2="149.30" stroke="#1c1c1c" stroke-width="1"/>
<line x1="526.8" y1="175.20" x2="992.6" y2="175.20" stroke="#1c1c1c" stroke-width="1"/>
<line x1="526.8" y1="201.10" x2="992.6" y2="201.10" stroke="#1c1c1c" stroke-width="1"/>
<line x1="526.8" y1="228.40" x2="992.6" y2="228.40" stroke="#1c1c1c" stroke-width="1"/>
<line x1="526.8" y1="254.30" x2="992.6" y2="254.30" stroke="#1c1c1c" stroke-width="1"/>
<text x="516.5" y="21.4" text-anchor="end" font-size="9.4" fill="#262626">100%</text>
<text x="516.5" y="47.7" text-anchor="end" font-size="9.4" fill="#262626">90%</text>
<text x="516.5" y="73.7" text-anchor="end" font-size="9.4" fill="#262626">80%</text>
<text x="516.5" y="99.9" text-anchor="end" font-size="9.4" fill="#262626">70%</text>
<text x="516.5" y="125.9" text-anchor="end" font-size="9.4" fill="#262626">60%</text>
<text x="516.5" y="152.6" text-anchor="end" font-size="9.4" fill="#262626">50%</text>
<text x="516.5" y="178.5" text-anchor="end" font-size="9.4" fill="#262626">40%</text>
<text x="516.5" y="204.4" text-anchor="end" font-size="9.4" fill="#262626">30%</text>
<text x="516.5" y="231.7" text-anchor="end" font-size="9.4" fill="#262626">20%</text>
<text x="516.5" y="257.6" text-anchor="end" font-size="9.4" fill="#262626">10%</text>
<text x="516.5" y="283.4" text-anchor="end" font-size="9.4" fill="#262626">0%</text>
<text x="536.5" y="298.6" text-anchor="middle" font-size="9.4" fill="#262626">0</text>
<text x="555.9" y="298.6" text-anchor="middle" font-size="9.4" fill="#262626">1</text>
<text x="575.3" y="298.6" text-anchor="middle" font-size="9.4" fill="#262626">2</text>
<text x="594.7" y="298.6" text-anchor="middle" font-size="9.4" fill="#262626">3</text>
<text x="614.1" y="298.6" text-anchor="middle" font-size="9.4" fill="#262626">4</text>
<text x="633.5" y="298.6" text-anchor="middle" font-size="9.4" fill="#262626">5</text>
<text x="653.0" y="298.6" text-anchor="middle" font-size="9.4" fill="#262626">6</text>
<text x="672.4" y="298.6" text-anchor="middle" font-size="9.4" fill="#262626">7</text>
<text x="691.8" y="298.6" text-anchor="middle" font-size="9.4" fill="#262626">8</text>
<text x="711.2" y="298.6" text-anchor="middle" font-size="9.4" fill="#262626">9</text>
<rect x="727.09" y="105.42" width="7" height="174.68" fill="#4198af"/>
<text x="730.6" y="298.6" text-anchor="middle" font-size="9.4" fill="#262626">10</text>
<rect x="746.50" y="256.28" width="7" height="23.82" fill="#db843d"/>
<text x="750.0" y="298.6" text-anchor="middle" font-size="9.4" fill="#262626">11</text>
<rect x="765.90" y="159.19" width="7" height="120.91" fill="#4f81bd"/>
<text x="769.4" y="298.6" text-anchor="middle" font-size="9.4" fill="#262626">12</text>
<rect x="785.31" y="192.78" width="7" height="87.32" fill="#c0504d"/>
<text x="788.8" y="298.6" text-anchor="middle" font-size="9.4" fill="#262626">13</text>
<rect x="804.72" y="18.10" width="7" height="262.00" fill="#9bbb59"/>
<text x="808.2" y="298.6" text-anchor="middle" font-size="9.4" fill="#262626">14</text>
<rect x="824.13" y="149.10" width="7" height="131.00" fill="#8064a2"/>
<text x="827.6" y="298.6" text-anchor="middle" font-size="9.4" fill="#262626">15</text>
<rect x="843.54" y="149.10" width="7" height="131.00" fill="#4bacc6"/>
<text x="847.0" y="298.6" text-anchor="middle" font-size="9.4" fill="#262626">16</text>
<rect x="862.95" y="227.70" width="7" height="52.40" fill="#f79646"/>
<text x="866.4" y="298.6" text-anchor="middle" font-size="9.4" fill="#262626">17</text>
<rect x="882.35" y="167.81" width="7" height="112.29" fill="#93a9cf"/>
<text x="885.9" y="298.6" text-anchor="middle" font-size="9.4" fill="#262626">18</text>
<rect x="901.76" y="83.60" width="7" height="196.50" fill="#d19392"/>
<text x="905.3" y="298.6" text-anchor="middle" font-size="9.4" fill="#262626">19</text>
<rect x="921.17" y="192.78" width="7" height="87.32" fill="#b9cd96"/>
<text x="924.7" y="298.6" text-anchor="middle" font-size="9.4" fill="#262626">20</text>
<rect x="940.58" y="214.60" width="7" height="65.50" fill="#a99bbd"/>
<text x="944.1" y="298.6" text-anchor="middle" font-size="9.4" fill="#262626">21</text>
<text x="963.5" y="298.6" text-anchor="middle" font-size="9.4" fill="#262626">22</text>
<rect x="979.40" y="192.78" width="7" height="87.32" fill="#fbb98e"/>
<text x="982.9" y="298.6" text-anchor="middle" font-size="9.4" fill="#262626">23</text>
<line x1="526.8" y1="18.1" x2="526.8" y2="280.1" stroke="#4d4d4d" stroke-width="1.2"/>
<line x1="526.8" y1="280.1" x2="992.6" y2="280.1" stroke="#1c1c1c" stroke-width="1.2"/>
<text x="762.5" y="24.5" text-anchor="middle" font-size="9.6" font-weight="bold" fill="#111">Win Rate by Hour (%)</text>
<rect x="1011.2" y="33.2" width="5.4" height="5.4" fill="#3a6798"/>
<text x="1019.3" y="39.1" font-size="9.4" fill="#262626">0</text>
<rect x="1011.2" y="53.4" width="5.4" height="5.4" fill="#9c3f3d"/>
<text x="1019.3" y="59.3" font-size="9.4" fill="#262626">1</text>
<rect x="1011.2" y="73.5" width="5.4" height="5.4" fill="#7e9a48"/>
<text x="1019.3" y="79.4" font-size="9.4" fill="#262626">2</text>
<rect x="1011.2" y="93.7" width="5.4" height="5.4" fill="#675083"/>
<text x="1019.3" y="99.6" font-size="9.4" fill="#262626">3</text>
<rect x="1011.2" y="113.9" width="5.4" height="5.4" fill="#3b8ba1"/>
<text x="1019.3" y="119.8" font-size="9.4" fill="#262626">4</text>
<rect x="1011.2" y="134.1" width="5.4" height="5.4" fill="#cb7a37"/>
<text x="1019.3" y="140.0" font-size="9.4" fill="#262626">5</text>
<rect x="1011.2" y="154.2" width="5.4" height="5.4" fill="#4572a7"/>
<text x="1019.3" y="160.1" font-size="9.4" fill="#262626">6</text>
<rect x="1011.2" y="174.4" width="5.4" height="5.4" fill="#aa4643"/>
<text x="1019.3" y="180.3" font-size="9.4" fill="#262626">7</text>
<rect x="1011.2" y="194.6" width="5.4" height="5.4" fill="#89a54e"/>
<text x="1019.3" y="200.5" font-size="9.4" fill="#262626">8</text>
<rect x="1011.2" y="214.7" width="5.4" height="5.4" fill="#71588f"/>
<text x="1019.3" y="220.6" font-size="9.4" fill="#262626">9</text>
<rect x="1011.2" y="234.9" width="5.4" height="5.4" fill="#4198af"/>
<text x="1019.3" y="240.8" font-size="9.4" fill="#262626">10</text>
<rect x="1011.2" y="255.1" width="5.4" height="5.4" fill="#db843d"/>
<text x="1019.3" y="261.0" font-size="9.4" fill="#262626">11</text>
<rect x="1011.2" y="275.2" width="5.4" height="5.4" fill="#4f81bd"/>
<text x="1019.3" y="281.1" font-size="9.4" fill="#262626">12</text>
<rect x="1048.3" y="6.4" width="557.7" height="302.3" rx="9.5" ry="9.5" fill="#fff" stroke="#a9a9a9" stroke-width="1.3"/>
<line x1="1085.2" y1="18.10" x2="1500" y2="18.10" stroke="#808080" stroke-width="1.6"/>
<line x1="1085.2" y1="70.45" x2="1500" y2="70.45" stroke="#1c1c1c" stroke-width="1"/>
<line x1="1085.2" y1="122.40" x2="1500" y2="122.40" stroke="#1c1c1c" stroke-width="1"/>
<line x1="1085.2" y1="175.50" x2="1500" y2="175.50" stroke="#1c1c1c" stroke-width="1"/>
<line x1="1085.2" y1="228.35" x2="1500" y2="228.35" stroke="#1c1c1c" stroke-width="1"/>
<text x="1074.6" y="21.4" text-anchor="end" font-size="9.4" fill="#262626">50%</text>
<text x="1074.6" y="73.8" text-anchor="end" font-size="9.4" fill="#262626">40%</text>
<text x="1074.6" y="125.7" text-anchor="end" font-size="9.4" fill="#262626">30%</text>
<text x="1074.6" y="178.8" text-anchor="end" font-size="9.4" fill="#262626">20%</text>
<text x="1074.6" y="231.7" text-anchor="end" font-size="9.4" fill="#262626">10%</text>
<text x="1074.6" y="283.4" text-anchor="end" font-size="9.4" fill="#262626">0%</text>
<rect x="1114.85" y="18.10" width="39.1" height="261.90" fill="#4f81bd"/>
<text x="1135.0" y="17.9" text-anchor="middle" font-size="9.4" fill="#262626">100</text>
<text x="1135.0" y="297.9" text-anchor="middle" font-size="9.4" fill="#262626">Sydney</text>
<text x="1234.5" y="271.8" text-anchor="middle" font-size="9.4" fill="#262626">0</text>
<text x="1234.5" y="297.9" text-anchor="middle" font-size="9.4" fill="#262626">Tokyo</text>
<rect x="1313.85" y="91.43" width="39.1" height="188.57" fill="#9bbb59"/>
<text x="1334.0" y="83.2" text-anchor="middle" font-size="9.4" fill="#262626">36</text>
<text x="1334.0" y="297.9" text-anchor="middle" font-size="9.4" fill="#262626">London</text>
<rect x="1413.35" y="18.10" width="39.1" height="261.90" fill="#8064a2"/>
<text x="1433.5" y="17.9" text-anchor="middle" font-size="9.4" fill="#262626">54.55</text>
<text x="1433.5" y="297.9" text-anchor="middle" font-size="9.4" fill="#262626">New York</text>
<line x1="1085.2" y1="18.1" x2="1085.2" y2="280.0" stroke="#4d4d4d" stroke-width="1.2"/>
<line x1="1085.2" y1="280.0" x2="1500" y2="280.0" stroke="#1c1c1c" stroke-width="1.2"/>
<text x="1305.8" y="24.5" text-anchor="middle" font-size="9.6" font-weight="bold" fill="#111">Win Rate by Session (%)</text>
<rect x="484.8" y="326.4" width="557.6" height="301.9" rx="9.5" ry="9.5" fill="#fff" stroke="#a9a9a9" stroke-width="1.3"/>
<line x1="533.5" y1="337.80" x2="978.3" y2="337.80" stroke="#808080" stroke-width="1.6"/>
<line x1="533.5" y1="403.50" x2="978.3" y2="403.50" stroke="#1c1c1c" stroke-width="1"/>
<line x1="533.5" y1="469.30" x2="978.3" y2="469.30" stroke="#1c1c1c" stroke-width="1"/>
<line x1="533.5" y1="535.00" x2="978.3" y2="535.00" stroke="#1c1c1c" stroke-width="1"/>
<text x="522.0" y="341.1" text-anchor="end" font-size="9.4" fill="#262626">20,000</text>
<text x="522.0" y="406.8" text-anchor="end" font-size="9.4" fill="#262626">15,000</text>
<text x="522.0" y="472.6" text-anchor="end" font-size="9.4" fill="#262626">10,000</text>
<text x="522.0" y="538.3" text-anchor="end" font-size="9.4" fill="#262626">5,000</text>
<text x="522.0" y="603.5" text-anchor="end" font-size="9.4" fill="#262626">0</text>
<text x="542.8" y="618.3" text-anchor="middle" font-size="9.4" fill="#262626">0</text>
<rect x="562.00" y="599.84" width="4.6" height="0.36" fill="#e2635b"/>
<text x="561.3" y="618.3" text-anchor="middle" font-size="9.4" fill="#262626">1</text>
<text x="579.8" y="618.3" text-anchor="middle" font-size="9.4" fill="#262626">2</text>
<text x="598.4" y="618.3" text-anchor="middle" font-size="9.4" fill="#262626">3</text>
<text x="616.9" y="618.3" text-anchor="middle" font-size="9.4" fill="#262626">4</text>
<text x="635.4" y="618.3" text-anchor="middle" font-size="9.4" fill="#262626">5</text>
<text x="654.0" y="618.3" text-anchor="middle" font-size="9.4" fill="#262626">6</text>
<text x="672.5" y="618.3" text-anchor="middle" font-size="9.4" fill="#262626">7</text>
<text x="691.0" y="618.3" text-anchor="middle" font-size="9.4" fill="#262626">8</text>
<text x="709.6" y="618.3" text-anchor="middle" font-size="9.4" fill="#262626">9</text>
<rect x="723.20" y="580.95" width="4.6" height="19.25" fill="#14a755"/>
<rect x="728.80" y="586.86" width="4.6" height="13.34" fill="#e2635b"/>
<text x="728.1" y="618.3" text-anchor="middle" font-size="9.4" fill="#262626">10</text>
<rect x="741.73" y="588.21" width="4.6" height="11.99" fill="#14a755"/>
<rect x="747.33" y="488.60" width="4.6" height="111.60" fill="#e2635b"/>
<text x="746.6" y="618.3" text-anchor="middle" font-size="9.4" fill="#262626">11</text>
<rect x="760.27" y="376.25" width="4.6" height="223.95" fill="#14a755"/>
<rect x="765.87" y="532.60" width="4.6" height="67.60" fill="#e2635b"/>
<text x="765.2" y="618.3" text-anchor="middle" font-size="9.4" fill="#262626">12</text>
<rect x="784.40" y="530.02" width="4.6" height="70.18" fill="#e2635b"/>
<text x="783.7" y="618.3" text-anchor="middle" font-size="9.4" fill="#262626">13</text>
<rect x="797.33" y="598.08" width="4.6" height="2.12" fill="#14a755"/>
<text x="802.2" y="618.3" text-anchor="middle" font-size="9.4" fill="#262626">14</text>
<rect x="815.87" y="566.60" width="4.6" height="33.60" fill="#14a755"/>
<rect x="821.47" y="593.19" width="4.6" height="7.01" fill="#e2635b"/>
<text x="820.8" y="618.3" text-anchor="middle" font-size="9.4" fill="#262626">15</text>
<rect x="834.40" y="532.17" width="4.6" height="68.03" fill="#14a755"/>
<rect x="840.00" y="582.20" width="4.6" height="18.00" fill="#e2635b"/>
<text x="839.3" y="618.3" text-anchor="middle" font-size="9.4" fill="#262626">16</text>
<rect x="858.53" y="567.91" width="4.6" height="32.29" fill="#e2635b"/>
<text x="857.8" y="618.3" text-anchor="middle" font-size="9.4" fill="#262626">17</text>
<rect x="871.47" y="469.21" width="4.6" height="130.99" fill="#14a755"/>
<rect x="877.07" y="580.67" width="4.6" height="19.53" fill="#e2635b"/>
<text x="876.4" y="618.3" text-anchor="middle" font-size="9.4" fill="#262626">18</text>
<rect x="890.00" y="573.94" width="4.6" height="26.26" fill="#14a755"/>
<rect x="895.60" y="588.12" width="4.6" height="12.08" fill="#e2635b"/>
<text x="894.9" y="618.3" text-anchor="middle" font-size="9.4" fill="#262626">19</text>
<rect x="908.53" y="561.31" width="4.6" height="38.89" fill="#14a755"/>
<rect x="914.13" y="580.88" width="4.6" height="19.32" fill="#e2635b"/>
<text x="913.4" y="618.3" text-anchor="middle" font-size="9.4" fill="#262626">20</text>
<rect x="927.07" y="566.88" width="4.6" height="33.32" fill="#14a755"/>
<rect x="932.67" y="593.74" width="4.6" height="6.46" fill="#e2635b"/>
<text x="932.0" y="618.3" text-anchor="middle" font-size="9.4" fill="#262626">21</text>
<text x="950.5" y="618.3" text-anchor="middle" font-size="9.4" fill="#262626">22</text>
<rect x="964.13" y="598.40" width="4.6" height="1.80" fill="#14a755"/>
<rect x="969.73" y="597.82" width="4.6" height="2.38" fill="#e2635b"/>
<text x="969.0" y="618.3" text-anchor="middle" font-size="9.4" fill="#262626">23</text>
<line x1="533.5" y1="337.8" x2="533.5" y2="600.2" stroke="#4d4d4d" stroke-width="1.2"/>
<line x1="533.5" y1="600.2" x2="978.3" y2="600.2" stroke="#1c1c1c" stroke-width="1.2"/>
<text x="762.5" y="344.7" text-anchor="middle" font-size="9.6" font-weight="bold" fill="#111">Profit / Loss by Hour</text>
<rect x="997.5" y="465.2" width="4.8" height="4.8" fill="#14a755"/><text x="1005.6" y="471.0" font-size="9.4" fill="#262626">Profit</text>
<rect x="997.5" y="484.8" width="4.8" height="4.8" fill="#e2635b"/><text x="1005.6" y="490.6" font-size="9.4" fill="#262626">Loss</text>
<rect x="1048.3" y="326.4" width="557.7" height="302.0" rx="9.5" ry="9.5" fill="#fff" stroke="#a9a9a9" stroke-width="1.3"/>
<line x1="1090.0" y1="338.10" x2="1500" y2="338.10" stroke="#808080" stroke-width="1.6"/>
<line x1="1090.0" y1="390.40" x2="1500" y2="390.40" stroke="#1c1c1c" stroke-width="1"/>
<line x1="1090.0" y1="442.70" x2="1500" y2="442.70" stroke="#1c1c1c" stroke-width="1"/>
<line x1="1090.0" y1="495.60" x2="1500" y2="495.60" stroke="#1c1c1c" stroke-width="1"/>
<line x1="1090.0" y1="548.10" x2="1500" y2="548.10" stroke="#1c1c1c" stroke-width="1"/>
<text x="1079.2" y="341.4" text-anchor="end" font-size="9.4" fill="#262626">100%</text>
<text x="1079.2" y="393.7" text-anchor="end" font-size="9.4" fill="#262626">80%</text>
<text x="1079.2" y="446.0" text-anchor="end" font-size="9.4" fill="#262626">60%</text>
<text x="1079.2" y="498.9" text-anchor="end" font-size="9.4" fill="#262626">40%</text>
<text x="1079.2" y="551.4" text-anchor="end" font-size="9.4" fill="#262626">20%</text>
<text x="1079.2" y="603.5" text-anchor="end" font-size="9.4" fill="#262626">0%</text>
<rect x="1108.80" y="425.46" width="22.6" height="174.74" fill="#4e79a7"/>
<text x="1120.1" y="618.2" text-anchor="middle" font-size="9.4" fill="#262626">Mon</text>
<rect x="1168.00" y="485.53" width="22.6" height="114.67" fill="#f28e2b"/>
<text x="1179.3" y="618.2" text-anchor="middle" font-size="9.4" fill="#262626">Tue</text>
<rect x="1227.20" y="425.46" width="22.6" height="174.74" fill="#e15759"/>
<text x="1238.5" y="618.2" text-anchor="middle" font-size="9.4" fill="#262626">Wed</text>
<rect x="1286.40" y="504.90" width="22.6" height="95.30" fill="#76b7b2"/>
<text x="1297.7" y="618.2" text-anchor="middle" font-size="9.4" fill="#262626">Thu</text>
<rect x="1345.60" y="534.68" width="22.6" height="65.53" fill="#59a14f"/>
<text x="1356.9" y="618.2" text-anchor="middle" font-size="9.4" fill="#262626">Fri</text>
<text x="1416.1" y="618.2" text-anchor="middle" font-size="9.4" fill="#262626">Sat</text>
<text x="1475.3" y="618.2" text-anchor="middle" font-size="9.4" fill="#262626">Sun</text>
<line x1="1090.0" y1="338.1" x2="1090.0" y2="600.2" stroke="#4d4d4d" stroke-width="1.2"/>
<line x1="1090.0" y1="600.2" x2="1500" y2="600.2" stroke="#1c1c1c" stroke-width="1.2"/>
<text x="1305.8" y="344.7" text-anchor="middle" font-size="9.6" font-weight="bold" fill="#111">Win Rate by 7 Days (%)</text>
<rect x="484.8" y="638.2" width="557.6" height="301.8" rx="9.5" ry="9.5" fill="#fff" stroke="#a9a9a9" stroke-width="1.3"/>
<line x1="533.5" y1="649.0" x2="978.2" y2="649.0" stroke="#808080" stroke-width="1.6"/>
<line x1="533.5" y1="692.5" x2="978.2" y2="692.5" stroke="#1c1c1c" stroke-width="1"/>
<text x="522.4" y="652.3" text-anchor="end" font-size="9.4" fill="#262626">15,000</text>
<text x="522.4" y="695.8" text-anchor="end" font-size="9.4" fill="#262626">12,500</text>
<rect x="611.2" y="663.9" width="17.4" height="80" fill="#59a14f"/>
<rect x="674.9" y="688.9" width="17.4" height="60" fill="#59a14f"/>
<line x1="533.5" y1="649.0" x2="533.5" y2="740" stroke="#4d4d4d" stroke-width="1.2"/>
<text x="763.3" y="656.2" text-anchor="middle" font-size="9.6" font-weight="bold" fill="#111">Profit/Loss by Weekly</text>
</svg>
<div class="bg" style="left:0;top:725.8px;width:1450px;height:25px;background:#e6e6e6;border-top:1px solid #c3c3c3;box-sizing:border-box"></div>
<div class="bg" style="left:0;top:748.6px;width:1450px;height:1.4px;background:#c8c8c8"></div>
<div class="bg" style="left:716px;top:725.8px;width:89.3px;height:21px;background:#fff;border-left:1px solid #c3c3c3;border-right:1px solid #c3c3c3;box-sizing:border-box"></div>
<div class="bg" style="left:716px;top:745px;width:89.3px;height:2px;background:#2a7a4b"></div>
<div class="tab" style="left:15.6px;transform-origin:0 50%;transform:scaleX(0.963)">RunningDay</div>
<div class="tab" style="left:99.3px;transform-origin:0 50%;transform:scaleX(0.981)">RunningWeek</div>
<div class="tab" style="left:192px;transform-origin:0 50%;transform:scaleX(1.014)">RunningMonth</div>
<div class="tab" style="left:289.7px;transform-origin:0 50%;transform:scaleX(0.973)">RunningYear</div>
<div class="tab" style="left:374.2px;transform-origin:0 50%;transform:scaleX(1.019)">Menu</div>
<div class="tab" style="left:423.8px;transform-origin:0 50%;transform:scaleX(0.875)">BTCUSD</div>
<div class="tab" style="left:486.6px;transform-origin:0 50%;transform:scaleX(0.870)">GBPCAD</div>
<div class="tab" style="left:550.1px;transform-origin:0 50%;transform:scaleX(0.858)">USDJPY</div>
<div class="tab" style="left:608.4px;transform-origin:0 50%;transform:scaleX(0.851)">USTEC</div>
<div class="tab" style="left:662.7px;transform-origin:0 50%;transform:scaleX(0.915)">XAUUSD</div>
<div class="sep" style="left:2.6px"></div>
<div class="sep" style="left:86.7px"></div>
<div class="sep" style="left:178.8px"></div>
<div class="sep" style="left:277.2px"></div>
<div class="sep" style="left:363.6px"></div>
<div class="sep" style="left:412.9px"></div>
<div class="sep" style="left:474.2px"></div>
<div class="sep" style="left:538.2px"></div>
<div class="sep" style="left:598.5px"></div>
<div class="sep" style="left:651.5px"></div>
<div class="tab" style="left:726.6px;font-weight:bold;color:#217346;font-size:10.8px;transform-origin:0 50%;transform:scaleX(0.979)">TimeAnalysis</div>
<div class="tab" style="left:819.3px;color:#777">Ti</div>
<div class="tab" style="left:833.6px;font-weight:bold;color:#333;font-size:12px;top:729.5px;letter-spacing:0.3px">...</div>
<svg width="1450" height="750" viewBox="0 0 1450 750">
<circle cx="860.7" cy="737.4" r="6.3" fill="none" stroke="#7d7d7d" stroke-width="1.1"/>
<path d="M857 737.4H864.4M860.7 733.7V741.1" stroke="#6a6a6a" stroke-width="1.6" fill="none"/>
<rect x="884.4" y="732.8000000000001" width="1.6" height="1.6" fill="#b4b4b4"/>
<rect x="884.4" y="736.4000000000001" width="1.6" height="1.6" fill="#b4b4b4"/>
<rect x="884.4" y="740.0" width="1.6" height="1.6" fill="#b4b4b4"/>
<rect x="898.4" y="731.6" width="551.6" height="12.2" fill="#dadada"/>
<rect x="898.9" y="732.1" width="11.5" height="11.2" fill="#fff" stroke="#c6c6c6" stroke-width="1"/>
<path d="M906.4 734.6V740.4L903.2 737.5Z" fill="#555"/>
<rect x="911.3" y="732.1" width="286.8" height="11.2" fill="#fff" stroke="#bebebe" stroke-width="1"/>
</svg>
</div></body></html>
